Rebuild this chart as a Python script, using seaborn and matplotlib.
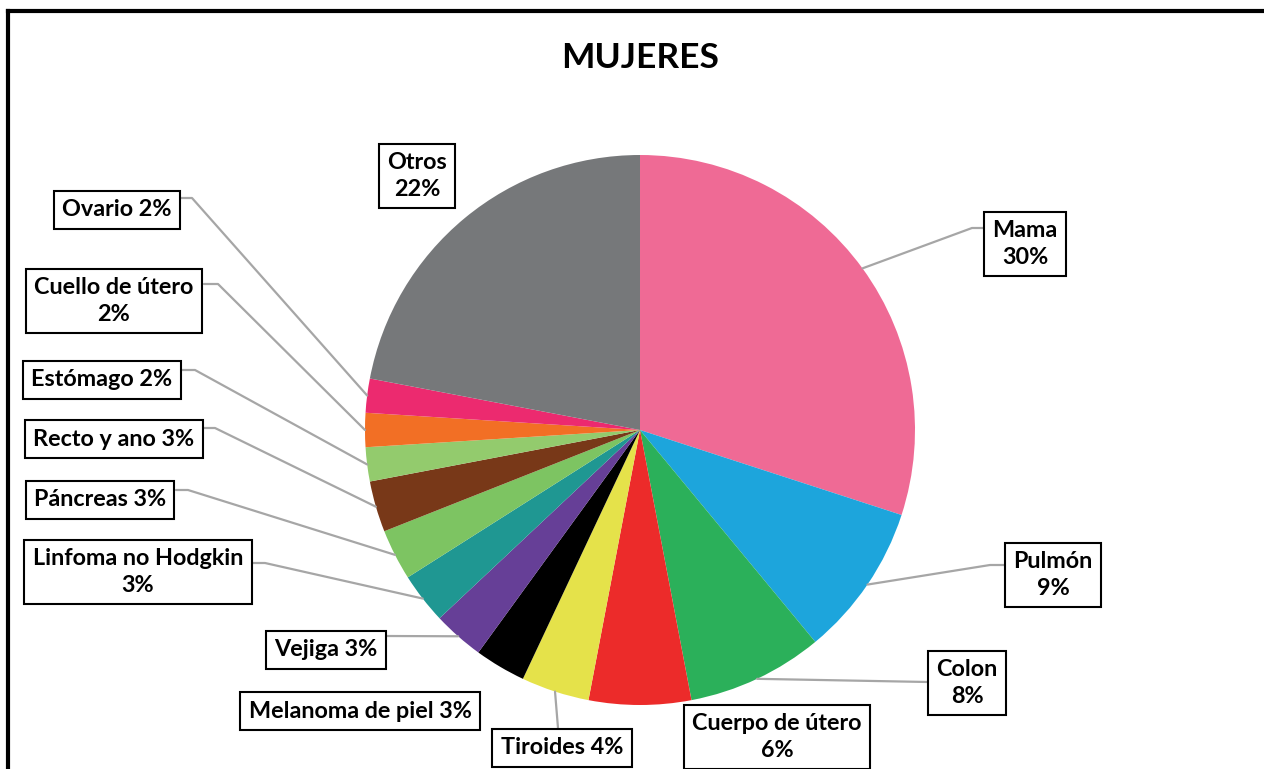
import matplotlib
matplotlib.use("Agg")
import matplotlib.pyplot as plt
import seaborn as sns
import numpy as np

# data, clockwise from 12 o'clock
categories = ["Mama", "Pulmón", "Colon", "Cuerpo de útero", "Tiroides",
              "Melanoma de piel", "Vejiga", "Linfoma no Hodgkin", "Páncreas",
              "Recto y ano", "Estómago", "Cuello de útero", "Ovario", "Otros"]
percent = [30, 9, 8, 6, 4, 3, 3, 3, 3, 3, 2, 2, 2, 22]

colors = ["#EF6A95", "#1DA5DC", "#2BB05A", "#EC2B2A", "#E5E24A", "#000000",
          "#663F97", "#1F9792", "#7DC462", "#783818", "#93CB6D", "#F26F25",
          "#EC2A6F", "#76787A"]

# label on two lines?
two_lines = [True, True, True, True, False, False, False, True, False,
             False, False, True, False, True]

# layout (image pixels, y down)
W, H = 1264, 769
CX, CY, R = 640, 430, 275
label_xy = [(1025, 244), (1053, 575), (967, 683), (777, 737), (562, 748),
            (360, 711), (326, 650), (138, 572), (100, 500), (114, 439),
            (102, 380), (114, 301), (117, 210), (417, 176)]
leaders = [[(983, 228), (972, 228)], [(1004, 565), (990, 565)], [(928, 682)],
           None, [(558, 728)], None, [(386, 636)], [(253, 563), (265, 563)],
           [(176, 490), (188, 490)], [(203, 428), (215, 428)],
           [(182, 370), (195, 370)], [(204, 284), (218, 284)],
           [(180, 198), (192, 198)], None]

FONT = ["Lato", "DejaVu Sans"]

sns.set_theme(style="white")
plt.rcParams["font.family"] = FONT

fig = plt.figure(figsize=(W / 100, H / 100), dpi=100)
ax = fig.add_axes([0, 0, 1, 1])


def fy(y):
    return H - y


wedges, _ = ax.pie(percent, colors=colors, startangle=90, counterclock=False,
                   center=(CX, fy(CY)), radius=R,
                   wedgeprops=dict(linewidth=0))
ax.set_xlim(0, W)
ax.set_ylim(0, H)
ax.set_aspect("auto")
ax.axis("off")

for i, w in enumerate(wedges):
    sep = "\n" if two_lines[i] else " "
    txt = f"{categories[i]}{sep}{percent[i]}%"
    lx, ly = label_xy[i]
    ax.text(lx, fy(ly), txt, ha="center", va="center", multialignment="center",
            fontsize=16.8, fontweight="bold", family=FONT, color="black",
            bbox=dict(boxstyle="square,pad=0.36", fc="white", ec="black", lw=1.5),
            zorder=5, linespacing=1.35)
    if leaders[i] is not None:
        mid = np.deg2rad((w.theta1 + w.theta2) / 2)
        px = CX + R * np.cos(mid)
        py = fy(CY) + R * np.sin(mid)
        xs = [p[0] for p in leaders[i]] + [px]
        ys = [fy(p[1]) for p in leaders[i]] + [py]
        ax.plot(xs, ys, color="#A6A6A6", lw=1.6, zorder=3)

ax.text(640, fy(58), "MUJERES", ha="center", va="center", fontsize=25.5,
        fontweight="bold", family=FONT, color="black")

# outer frame: only top and left edges are visible in the original
ax.plot([8, W + 5], [fy(11), fy(11)], color="black", lw=3, zorder=6,
        solid_capstyle="projecting")
ax.plot([8, 8], [fy(11), -5], color="black", lw=3, zorder=6,
        solid_capstyle="projecting")

fig.savefig("out.png", dpi=100)
